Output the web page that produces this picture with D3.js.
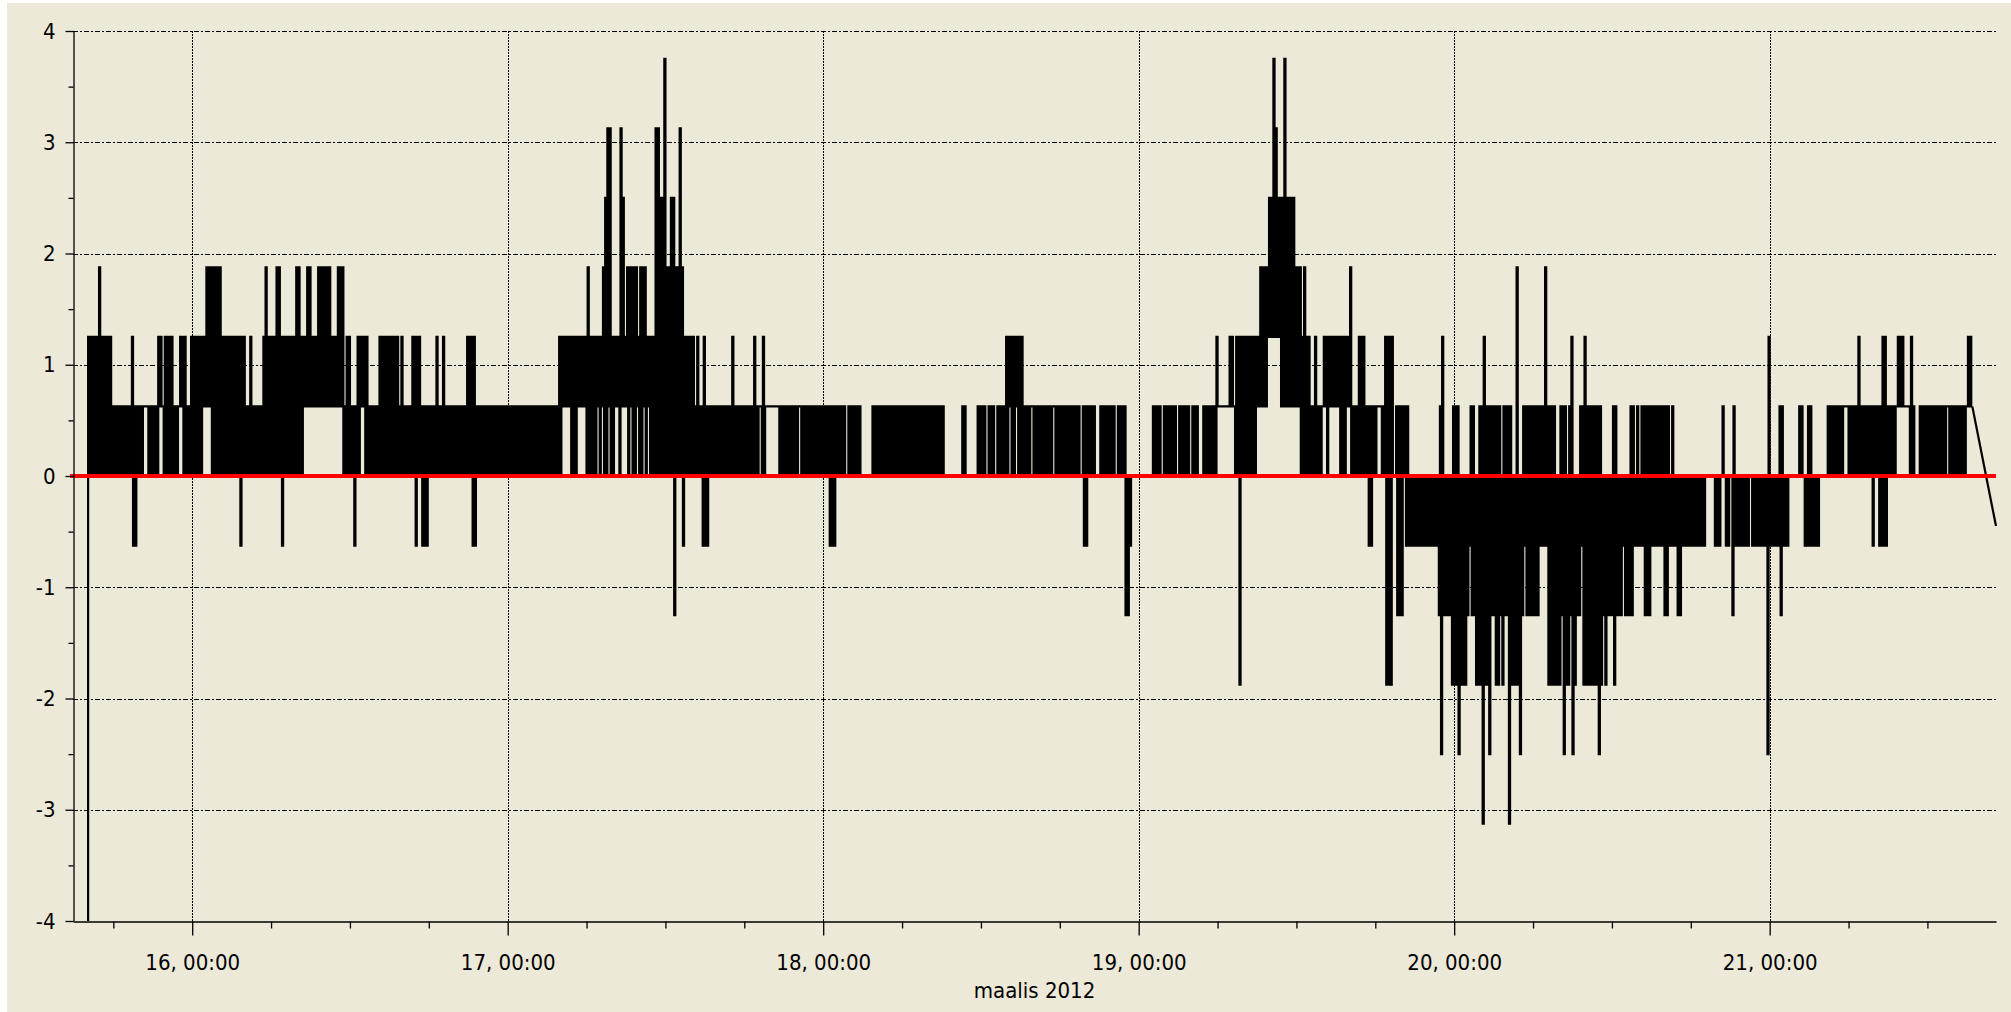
<!DOCTYPE html>
<html><head><meta charset="utf-8">
<script src="https://cdn.jsdelivr.net/npm/d3@7"></script>
<style>
html,body{margin:0;padding:0;background:#fff;}
svg{display:block;}
text{font-family:"DejaVu Sans Condensed","DejaVu Sans",sans-serif;font-stretch:condensed;}
</style></head><body>
<svg id="chart" width="2011" height="1012"></svg>
<script>
// ---------- DATA ----------
// The series is very dense; it is stored as 10-minute buckets from 15.3.2012 16:00.
// For every bucket the lowest and the highest level reached, one character per bucket.
const seriesStart = "2012-03-15T16:00:00";
const bucketMinutes = 10;
const levelValues = {"z":-4.4,"e":-3.125,"d":-2.5,"c":-1.875,"b":-1.25,"a":-0.625,
  "0":0,"1":0.625,"2":1.25,"3":1.875,"4":2.5,"5":3.125,"6":3.75};
const rowStartIndex = [0, 143, 293, 444, 595, 736];
const rowHigh = [
  "2222232222"+"2111111111"+"2111111111"+"1122122221"+"1122211222"+"2222333333"+"3222222222"+"2211211111"+"2322223322"+"2222233222"+"3322233333"+"3222333122"+"1112222211"+"1112222222"+"221",
  "2111122"+"2211111112"+"1121111111"+"1112222111"+"1111111111"+"1111111111"+"1111111111"+"11111"+"22222"+"2222222232"+"2222234552"+"2225423333"+"3233322225"+"5446334433"+"5322222121"+"1211111111"+"111",
  "1211111"+"1111211121"+"1111111111"+"1111111111"+"1111111111"+"1111110111"+"1110000011"+"1111111111"+"1111111111"+"1111111111"+"1000000001"+"1000001111"+"0111011112"+"2222222111"+"1111111111"+"1111",
  "1111111110"+"1111110011"+"1111101111"+"0000000000"+"0011110111"+"1110111110"+"1110011111"+"1211111221"+"2222222222"+"2333344654"+"4464444333"+"2322112111"+"2222222222"+"2231112221"+"11111111222",
  "2011111100"+"0000000000"+"0012000011"+"1000001100"+"1121111111"+"0111100300"+"1111111111"+"3111100111"+"0120001121"+"1111110000"+"0110000001"+"1010111111"+"1111111010"+"00000000000",
  "0000000000"+"1000010000"+"0000000000"+"0200001100"+"0000011001"+"1000000011"+"1111111111"+"1121111111"+"1112211111"+"2221112100"+"1111111111"+"1111111111"+"11221"
];
const rowLow = [
  "z000000000"+"0000000000"+"0aa0001100"+"0001100000"+"0011000000"+"0001111000"+"0000000000"+"a000000000"+"000000000a"+"0000000001"+"1111111111"+"1111111000"+"00a0011000"+"0000000000"+"000",
  "0000000"+"a00aaa0000"+"0000000000"+"000000aa00"+"0000000000"+"0000000000"+"0000000000"+"00000"+"00111"+"1000111100"+"0001010010"+"0110111010"+"0100101000"+"00000000b0"+"00a0000000"+"0aaa000000"+"000",
  "0000000"+"0000000100"+"1111110000"+"0000010000"+"000000000a"+"aa00000000"+"0000000000"+"0000000000"+"0000000000"+"0000000000"+"0000000000"+"0000000000"+"0000000000"+"0100100000"+"0100000000"+"0100",
  "0000000000"+"0aa0000000"+"0000000000"+"bba0000000"+"0000000000"+"0000000000"+"0000000000"+"0011111111"+"00c0000000"+"1111122222"+"2111111111"+"0000000000"+"1101111100"+"0110000000"+"0aa001100cc",
  "c00bbb0aaa"+"aaaaaaaaaa"+"aabdbbbbcc"+"cdcccbabbc"+"cceccdbbcc"+"bcbbeccccd"+"babbbbbbaa"+"aaccccccbd"+"ccbdcbbacc"+"cccccdcbcb"+"bbcbbbabbb"+"baaaaabbba"+"aaaaabbaaa"+"abbaaaaaaaa",
  "aaa0000aaa"+"00aa0baaaa"+"aaa0aaaaaa"+"adaaaaabaa"+"a0000000aa"+"aaaaa00000"+"0000001100"+"000000000a"+"00aaaa0000"+"1111110000"+"0000000000"+"0001000000"+"00111"
];
const tailTime = "2012-03-21T17:13:00";
const tailValue = -0.45;

const xDomain = ["2012-03-15T14:56:00", "2012-03-21T17:13:00"];
const xTickDates = ["2012-03-16T00:00:00","2012-03-17T00:00:00","2012-03-18T00:00:00","2012-03-19T00:00:00","2012-03-20T00:00:00","2012-03-21T00:00:00"];
const xTickLabels = ["16, 00:00","17, 00:00","18, 00:00","19, 00:00","20, 00:00","21, 00:00"];
const xAxisTitle = "maalis 2012";
const yTicks = [-4,-3,-2,-1,0,1,2,3,4];
const yTickLabels = ["-4","-3","-2","-1","0","1","2","3","4"];
const yMinorTicks = [-3.5,-2.5,-1.5,-0.5,0.5,1.5,2.5,3.5];

// ---------- CHART ----------
(function(){
const svg = d3.select("#chart");
const W = 2011, H = 1012;
const pLeft = 73, pRight = 1996, pTop = 31, pBottom = 921;
const parse = s => new Date(s);

svg.append("rect").attr("x",7).attr("y",3).attr("width",W-7).attr("height",H-3).attr("fill","#ECE9D8");

const x = d3.scaleTime().domain(xDomain.map(parse)).range([pLeft, pRight]);
const y = d3.scaleLinear().domain([-4, 4]).range([pBottom, pTop]);

// build buckets
const t0 = parse(seriesStart);
const buckets = new Map();
rowStartIndex.forEach((start, r) => {
  const hi = rowHigh[r], lo = rowLow[r];
  for (let k = 0; k < hi.length; k++) buckets.set(start + k, {lo: levelValues[lo[k]], hi: levelValues[hi[k]]});
});
const points = [];
Array.from(buckets.keys()).sort((a,b)=>a-b).forEach(i => {
  const b = buckets.get(i);
  const t = d3.timeMinute.offset(t0, i*bucketMinutes);
  points.push({t: t, v: b.lo});
  points.push({t: d3.timeMinute.offset(t, bucketMinutes/2), v: b.hi});
});
const last = points[points.length-1];
const tail = [last, {t: parse(tailTime), v: tailValue}];

// grid
const grid = svg.append("g").attr("shape-rendering","crispEdges");
grid.selectAll("line.h").data(yTicks.filter(d => d > -4)).join("line")
  .attr("x1", pLeft).attr("x2", pRight)
  .attr("y1", d => Math.round(y(d))+0.5).attr("y2", d => Math.round(y(d))+0.5)
  .attr("stroke","#000").attr("stroke-width",1).attr("stroke-dasharray","5,2,2,2");
grid.selectAll("line.v").data(xTickDates.map(parse)).join("line")
  .attr("x1", d => Math.round(x(d))+0.5).attr("x2", d => Math.round(x(d))+0.5)
  .attr("y1", pTop).attr("y2", pBottom)
  .attr("stroke","#000").attr("stroke-width",1).attr("stroke-dasharray","2,1");

// clip
svg.append("clipPath").attr("id","plotclip").append("rect")
  .attr("x", pLeft).attr("y", pTop-2).attr("width", pRight-pLeft+4).attr("height", pBottom-pTop+2);

const plot = svg.append("g").attr("clip-path","url(#plotclip)");
plot.append("path").datum(points)
  .attr("d", d3.line().x(d=>x(d.t)).y(d=>y(d.v)).curve(d3.curveStepAfter))
  .attr("fill","none").attr("stroke","#000").attr("stroke-width",2.2);
plot.append("path").datum(tail)
  .attr("d", d3.line().x(d=>x(d.t)).y(d=>y(d.v)))
  .attr("fill","none").attr("stroke","#000").attr("stroke-width",2.2);

// zero line
svg.append("line").attr("x1", pLeft-3).attr("x2", pRight).attr("y1", y(0)).attr("y2", y(0))
  .attr("stroke","#FF0000").attr("stroke-width",4);

// axes
const fontSize = 22;
const gy = svg.append("g").attr("transform",`translate(${pLeft+0.5},0)`)
  .call(d3.axisLeft(y).tickValues(yTicks).tickSize(8).tickSizeOuter(0).tickPadding(10)
    .tickFormat(d => yTickLabels[yTicks.indexOf(d)]));
svg.append("g").attr("transform",`translate(${pLeft+0.5},0)`)
  .call(d3.axisLeft(y).tickValues(yMinorTicks).tickSize(5).tickSizeOuter(0).tickFormat(""))
  .select(".domain").remove();

const minorX = d3.timeHour.every(6).range(x.domain()[0], x.domain()[1]).filter(d => d.getHours() !== 0);
const gx = svg.append("g").attr("transform",`translate(0,${pBottom+0.5})`)
  .call(d3.axisBottom(x).tickValues(xTickDates.map(parse)).tickSize(14).tickSizeOuter(0)
    .tickFormat((d,i) => xTickLabels[i]));
svg.append("g").attr("transform",`translate(0,${pBottom+0.5})`)
  .call(d3.axisBottom(x).tickValues(minorX).tickSize(7).tickSizeOuter(0).tickFormat(""))
  .select(".domain").remove();

svg.selectAll(".tick line, .domain").attr("stroke","#000").attr("stroke-width",1.3);
gy.selectAll("text").attr("font-size",fontSize).attr("fill","#000");
gx.selectAll("text").attr("font-size",fontSize).attr("fill","#000").attr("y",48).attr("dy",0);

svg.append("text").attr("x",(pLeft+pRight)/2).attr("y",998).attr("text-anchor","middle")
  .attr("font-size",fontSize).attr("fill","#000").text(xAxisTitle);
})();
</script>
</body></html>
